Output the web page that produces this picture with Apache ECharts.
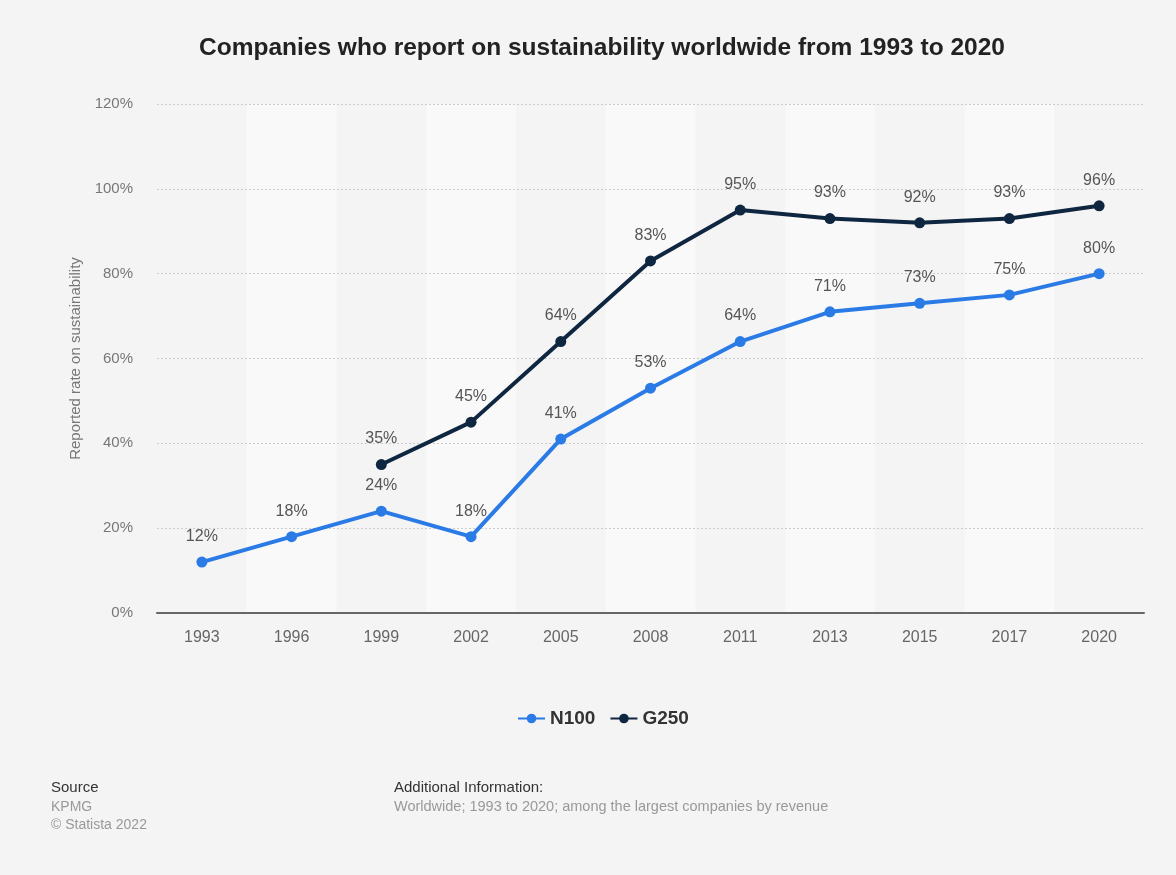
<!DOCTYPE html>
<html><head><meta charset="utf-8">
<script src="https://cdn.jsdelivr.net/npm/echarts@6/dist/echarts.min.js"></script>
<style>html,body{margin:0;padding:0;background:#f4f4f4}#c{width:1176px;height:875px}</style>
</head><body><div id="c"></div>
<script>
const years = ['1993','1996','1999','2002','2005','2008','2011','2013','2015','2017','2020'];
const n100 = [12, 18, 24, 18, 41, 53, 64, 71, 73, 75, 80];
const g250 = [null, null, 35, 45, 64, 83, 95, 93, 92, 93, 96];
const yTicks = [0, 20, 40, 60, 80, 100, 120];

const chart = echarts.init(document.getElementById('c'), null, {renderer: 'canvas'});
const font = '"Liberation Sans", Arial, Helvetica, sans-serif';
const labelStyle = {show: true, position: 'top', distance: 12, formatter: p => p.value + '%', color: '#555', fontSize: 16, fontFamily: font};
chart.setOption({
  backgroundColor: '#f4f4f4',
  animation: false,
  textStyle: {fontFamily: font},
  title: {text: 'Companies who report on sustainability worldwide from 1993 to 2020', left: 194, top: 31,
    textStyle: {fontSize: 24.5, fontWeight: 'bold', color: '#222', fontFamily: font}},
  legend: {top: 704, left: 512, itemWidth: 27, itemHeight: 12, itemGap: 14,
    textStyle: {fontSize: 19, fontWeight: 'bold', color: '#333', fontFamily: font},
    data: ['N100', 'G250']},
  grid: {left: 157, right: 32, top: 104, bottom: 262},
  xAxis: [
    {type: 'category', data: years, boundaryGap: true, z: 0,
      axisLine: {show: false}, axisTick: {show: false}, axisLabel: {show: false},
      splitArea: {show: true, areaStyle: {color: ['rgba(0,0,0,0)', '#f9f9f9']}}},
    {type: 'category', data: years, boundaryGap: true, z: 3, position: 'bottom',
      axisLine: {lineStyle: {color: '#666', width: 2}}, axisTick: {show: false},
      axisLabel: {color: '#666', fontSize: 16, margin: 17, fontFamily: font},
      splitArea: {show: false}}
  ],
  yAxis: {type: 'value', min: yTicks[0], max: yTicks[yTicks.length-1], interval: 20, z: 1,
    name: 'Reported rate on sustainability', nameLocation: 'middle', nameGap: 74,
    nameTextStyle: {color: '#777', fontSize: 15, fontFamily: font},
    axisLine: {show: false}, axisTick: {show: false},
    axisLabel: {color: '#777', fontSize: 15, margin: 24, formatter: v => v + '%', fontFamily: font},
    splitLine: {showMinLine: false, lineStyle: {color: '#ccc', type: [2, 2], width: 1}}},
  series: [
    {name: 'N100', type: 'line', data: n100, color: '#2b7be6', symbol: 'circle', symbolSize: 11,
      lineStyle: {width: 4}, label: labelStyle, z: 3},
    {name: 'G250', type: 'line', data: g250, color: '#0f2640', symbol: 'circle', symbolSize: 11,
      lineStyle: {width: 4}, label: labelStyle, z: 4}
  ],
  graphic: [
    {type: 'text', left: 51, top: 780, style: {text: 'Source', fontSize: 15, fill: '#333', fontFamily: font}},
    {type: 'text', left: 51, top: 800, style: {text: 'KPMG', fontSize: 14, fill: '#999', fontFamily: font}},
    {type: 'text', left: 51, top: 818, style: {text: '© Statista 2022', fontSize: 14, fill: '#999', fontFamily: font}},
    {type: 'text', left: 394, top: 780, style: {text: 'Additional Information:', fontSize: 15, fill: '#333', fontFamily: font}},
    {type: 'text', left: 394, top: 799, style: {text: 'Worldwide; 1993 to 2020; among the largest companies by revenue', fontSize: 14.5, fill: '#999', fontFamily: font}}
  ]
});
</script></body></html>
